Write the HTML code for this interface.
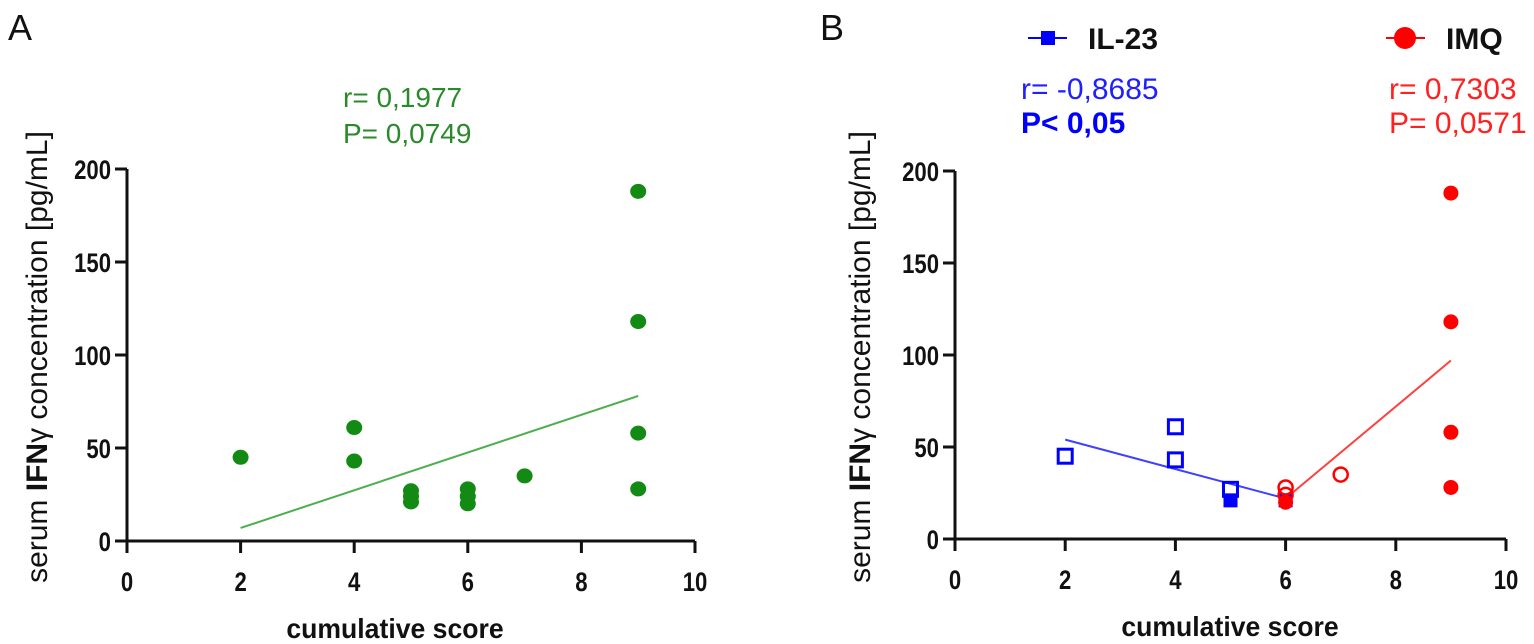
<!DOCTYPE html>
<html><head><meta charset="utf-8"><style>
html,body{margin:0;padding:0;background:#fff;}
svg{display:block;font-family:"Liberation Sans",sans-serif;}
.tick{font-size:27px;font-weight:bold;fill:#111;}
.axt{font-size:28px;font-weight:bold;fill:#111;}
.yt{font-size:30px;fill:#111;}
</style></head><body>
<svg id="chart" width="1534" height="644" viewBox="0 0 1534 644" xmlns="http://www.w3.org/2000/svg">
<text x="8" y="40" font-size="36" fill="#111">A</text>
<text x="820" y="40" font-size="36" fill="#111">B</text>
<text x="343" y="107" font-size="28" fill="#2a8a2a">r= 0,1977</text>
<text x="343" y="143" font-size="28" fill="#2a8a2a">P= 0,0749</text>
<g>
<line x1="1028" y1="38" x2="1067" y2="38" stroke="#0000ff" stroke-width="2"/>
<rect x="1041" y="31" width="14" height="14" fill="#0000ff"/>
<text x="1088" y="49" font-size="30" font-weight="bold" fill="#111">IL-23</text>
</g>
<g>
<line x1="1386" y1="38" x2="1425" y2="38" stroke="#ff0000" stroke-width="2"/>
<circle cx="1405" cy="38" r="11" fill="#ff0000"/>
<text x="1446" y="49" font-size="30" font-weight="bold" fill="#111">IMQ</text>
</g>
<text x="1021" y="99" font-size="30" fill="#2020ff">r= -0,8685</text>
<text x="1021" y="133" font-size="30" font-weight="bold" fill="#0000ff">P&lt; 0,05</text>
<text x="1389" y="99" font-size="30" fill="#ff2020">r= 0,7303</text>
<text x="1389" y="133" font-size="30" fill="#ff2020">P= 0,0571</text>
<g id="pa"></g><g id="pb"></g>
</svg>
<script>
const xTicks=[0,2,4,6,8,10];
const yTicks=[0,50,100,150,200];
const aX=[2,4,4,5,5,5,6,6,6,7,9,9,9,9];
const aY=[45,61,43,27,24,21,28,24,20,35,188,118,58,28];
const aFitX=[2,9];
const aFitY=[7,78];
const ilOpenX=[2,4,4,5];
const ilOpenY=[45,61,43,27];
const ilFillX=[5,6];
const ilFillY=[21,21];
const ilFitX=[2,6];
const ilFitY=[54,22];
const imqOpenX=[6,6,7];
const imqOpenY=[28,24,35];
const imqFillX=[6,9,9,9,9];
const imqFillY=[20,188,118,58,28];
const imqFitX=[6,9];
const imqFitY=[22,97];
const NS="http://www.w3.org/2000/svg";
const SC=0.82;
function mk(p,t,a){const e=document.createElementNS(NS,t);for(const k in a)e.setAttribute(k,a[k]);p.appendChild(e);return e;}
function axes(g,x0,x1,y0,y1,ytx,xtx,panel){
  const sx=v=>x0+(x1-x0)*v/10, sy=v=>y0-(y0-y1)*v/200;
  let e=mk(g,'line',{x1:x0,y1:y0+12,x2:x0,y2:y1,stroke:'#111','stroke-width':3});
  
  e=mk(g,'line',{x1:x0-10,y1:y0,x2:x1,y2:y0,stroke:'#111','stroke-width':3});
  
  xTicks.forEach(v=>{mk(g,'line',{x1:sx(v),y1:y0,x2:sx(v),y2:y0+12,stroke:'#111','stroke-width':3});
    const t=mk(g,'text',{x:0,y:0,'text-anchor':'middle',class:'tick',transform:`translate(${sx(v)},${y0+50}) scale(${SC},1)`});t.textContent=v;
    });
  yTicks.forEach(v=>{mk(g,'line',{x1:x0-12,y1:sy(v),x2:x0,y2:sy(v),stroke:'#111','stroke-width':3});
    const t=mk(g,'text',{x:0,y:0,'text-anchor':'end',class:'tick',transform:`translate(${x0-16},${sy(v)+10}) scale(${SC},1)`});t.textContent=v;
    });
  let t=mk(g,'text',{x:0,y:0,'text-anchor':'middle',class:'axt',transform:`translate(${xtx},${y0+97}) scale(0.95,1)`});t.textContent='cumulative score';
  
  t=mk(g,'text',{transform:`translate(${ytx},357) rotate(-90)`,'text-anchor':'middle',class:'yt'});
  t.innerHTML='serum <tspan font-weight="bold">IFN</tspan>γ concentration [pg/mL]';
  
  return [sx,sy];
}
const ga=document.getElementById('pa'), gb=document.getElementById('pb');
const [ax,ay]=axes(ga,127,695,541,169,47,395,'panel-a');
let l=mk(ga,'line',{x1:ax(aFitX[0]),y1:ay(aFitY[0]),x2:ax(aFitX[1]),y2:ay(aFitY[1]),stroke:'#4caf4c','stroke-width':2});

aX.forEach((x,i)=>{const c=mk(ga,'ellipse',{cx:ax(x),cy:ay(aY[i]),rx:8,ry:7.5,fill:'#138a13'});
  });
const [bx,by]=axes(gb,955,1506,539,171,870,1230,'panel-b');
l=mk(gb,'line',{x1:bx(ilFitX[0]),y1:by(ilFitY[0]),x2:bx(ilFitX[1]),y2:by(ilFitY[1]),stroke:'#4040ff','stroke-width':2});

l=mk(gb,'line',{x1:bx(imqFitX[0]),y1:by(imqFitY[0]),x2:bx(imqFitX[1]),y2:by(imqFitY[1]),stroke:'#ff4040','stroke-width':2});

ilFillX.forEach((x,i)=>{const r=mk(gb,'rect',{x:bx(x)-7,y:by(ilFillY[i])-7,width:14,height:14,fill:'#0000ff'});
  });
ilOpenX.forEach((x,i)=>{const r=mk(gb,'rect',{x:bx(x)-7,y:by(ilOpenY[i])-7,width:14,height:14,fill:'none',stroke:'#0000ff','stroke-width':3});
  });
imqFillX.forEach((x,i)=>{const c=mk(gb,'circle',{cx:bx(x),cy:by(imqFillY[i]),r:7.5,fill:'#ff0000'});
  });
imqOpenX.forEach((x,i)=>{const c=mk(gb,'circle',{cx:bx(x),cy:by(imqOpenY[i]),r:7,fill:'none',stroke:'#ff0000','stroke-width':2.5});
  });
</script>
</body></html>
